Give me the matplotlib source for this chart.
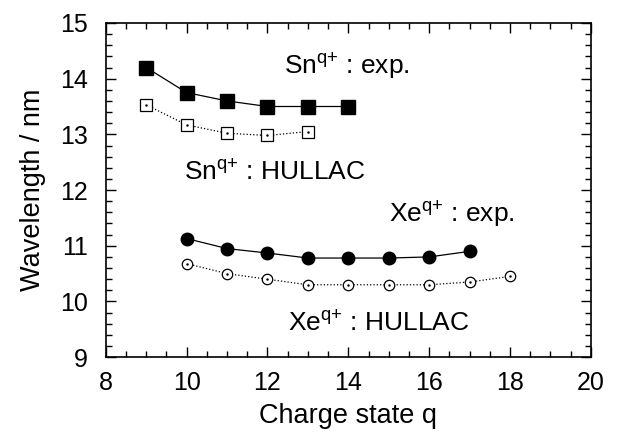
import matplotlib
matplotlib.use("Agg")
import matplotlib.pyplot as plt
from matplotlib.ticker import MultipleLocator

plt.rcParams['font.family'] = ['Liberation Sans', 'DejaVu Sans']
plt.rcParams['mathtext.fontset'] = 'custom'
plt.rcParams['mathtext.rm'] = 'Liberation Sans'
plt.rcParams['mathtext.it'] = 'Liberation Sans'

sn_q_exp = [9, 10, 11, 12, 13, 14]
sn_exp = [14.2, 13.75, 13.6, 13.5, 13.5, 13.5]
sn_q_hul = [9, 10, 11, 12, 13]
sn_hul = [13.53, 13.17, 13.02, 12.98, 13.05]
xe_q_exp = [10, 11, 12, 13, 14, 15, 16, 17]
xe_exp = [11.13, 10.95, 10.87, 10.78, 10.78, 10.78, 10.8, 10.9]
xe_q_hul = [10, 11, 12, 13, 14, 15, 16, 17, 18]
xe_hul = [10.68, 10.5, 10.4, 10.3, 10.3, 10.3, 10.3, 10.35, 10.45]

fig = plt.figure(figsize=(6.22, 4.41), dpi=100)
ax = fig.add_axes([0.170, 0.190, 0.780, 0.758])

ax.plot(sn_q_exp, sn_exp, ls='-', color='black', lw=0.9, marker='s', ms=9.5,
        mfc='black', mec='black')
ax.plot(sn_q_hul, sn_hul, ls=':', color='black', lw=0.9, marker='s', ms=8,
        mfc='white', mec='black', mew=0.9)
ax.plot(sn_q_hul, sn_hul, ls='none', marker='.', ms=1.5, color='black')
ax.plot(xe_q_exp, xe_exp, ls='-', color='black', lw=0.9, marker='o', ms=9,
        mfc='black', mec='black')
ax.plot(xe_q_hul, xe_hul, ls=':', color='black', lw=0.9, marker='o', ms=7.5,
        mfc='white', mec='black', mew=0.9)
ax.plot(xe_q_hul, xe_hul, ls='none', marker='.', ms=1.5, color='black')

ax.set_xlim(8, 20)
ax.set_ylim(9, 15)
ax.xaxis.set_major_locator(MultipleLocator(2))
ax.xaxis.set_minor_locator(MultipleLocator(0.5))
ax.yaxis.set_major_locator(MultipleLocator(1))
ax.yaxis.set_minor_locator(MultipleLocator(0.2))
ax.tick_params(which='both', direction='in', top=True, right=True, width=1.0)
ax.tick_params(which='major', length=7, labelsize=18)
ax.tick_params(axis='y', which='major', pad=13)
ax.tick_params(axis='x', which='major', pad=10)
ax.tick_params(which='minor', length=4)
for s in ax.spines.values():
    s.set_linewidth(1.2)

ax.set_xlabel('Charge state q', fontsize=19.5, labelpad=6)
ax.set_ylabel('Wavelength / nm', fontsize=19.5, labelpad=10)

fs = 19
ax.text(12.42, 14.08, r'Sn$^{\mathrm{q{+}}}$ : exp.', fontsize=fs, va='baseline', ha='left')
ax.text(9.93, 12.18, r'Sn$^{\mathrm{q{+}}}$ : HULLAC', fontsize=fs, va='baseline', ha='left')
ax.text(15.0, 11.42, r'Xe$^{\mathrm{q{+}}}$ : exp.', fontsize=fs, va='baseline', ha='left')
ax.text(12.5, 9.47, r'Xe$^{\mathrm{q{+}}}$ : HULLAC', fontsize=fs, va='baseline', ha='left')

fig.savefig('out.png', dpi=100)
